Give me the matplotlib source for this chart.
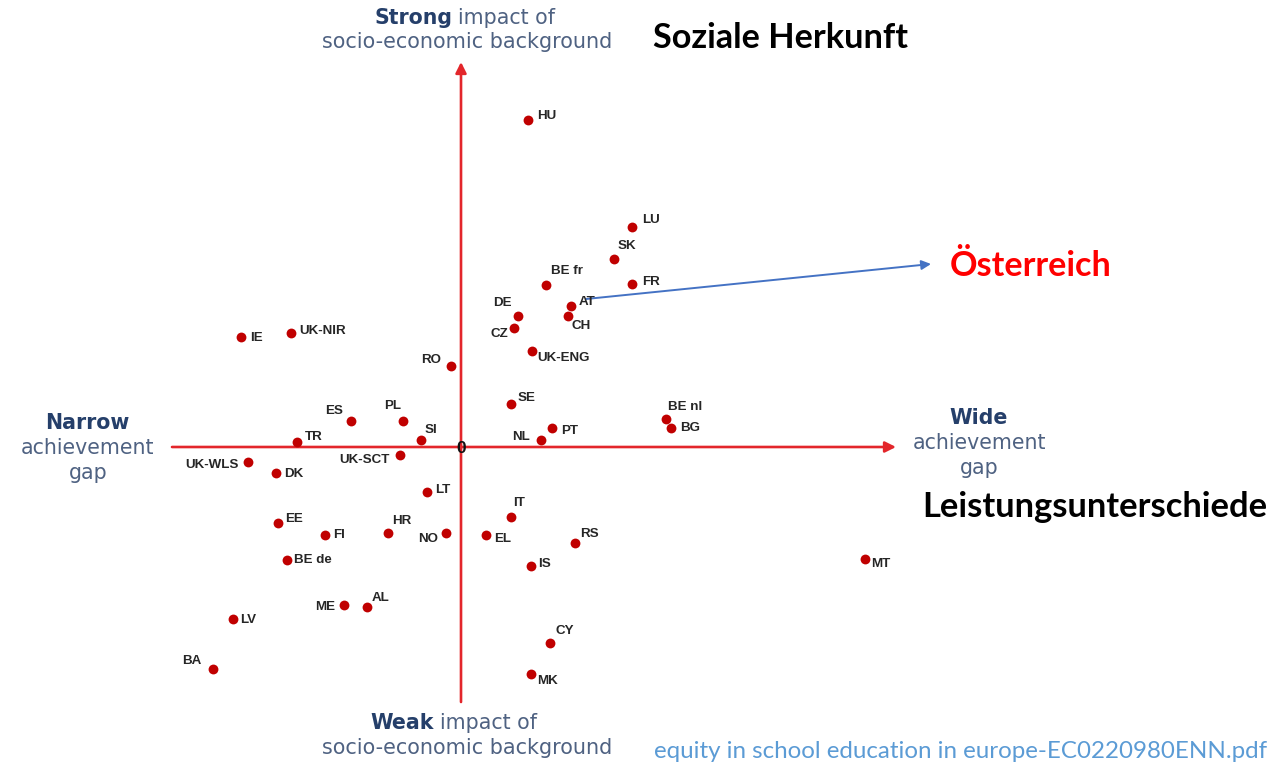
import matplotlib
matplotlib.use("Agg")
import matplotlib.pyplot as plt

# ---------------- data ----------------
countries = ["HU", "LU", "SK", "BE fr", "FR", "AT", "CH", "DE", "CZ", "UK-ENG",
             "IE", "UK-NIR", "RO", "ES", "PL", "SI", "TR", "UK-SCT", "UK-WLS", "DK",
             "LT", "EE", "FI", "HR", "NO", "BE de", "ME", "AL", "LV", "BA",
             "SE", "PT", "NL", "BE nl", "BG", "IT", "EL", "RS", "IS", "CY", "MK", "MT"]
# achievement gap (x) and impact of socio-economic background (y)
gap = [6.7, 17.1, 15.3, 8.5, 17.1, 11.0, 10.7, 5.7, 5.3, 7.1,
       -22.0, -17.0, -1.0, -11.0, -5.8, -4.0, -16.4, -6.1, -21.3, -18.5,
       -3.4, -18.3, -13.6, -7.3, -1.5, -17.4, -11.7, -9.4, -22.8, -24.8,
       5.0, 9.1, 8.0, 20.5, 21.0, 5.0, 2.5, 11.4, 7.0, 8.9, 7.0, 40.4]
impact = [32.7, 22.0, 18.8, 16.2, 16.3, 14.1, 13.1, 13.1, 11.9, 9.6,
          11.0, 11.4, 8.1, 2.6, 2.6, 0.7, 0.5, -0.8, -1.5, -2.6,
          -4.5, -7.6, -8.8, -8.6, -8.6, -11.3, -15.8, -16.0, -17.2, -22.2,
          4.3, 1.9, 0.7, 2.8, 1.9, -7.0, -8.8, -9.6, -11.9, -19.6, -22.7, -11.2]

# label placement (pixel offsets, alignment) -- styling only
label_pos = {
    "HU": (9, 4, "left"), "LU": (10, 7, "left"), "SK": (4, 13, "left"),
    "BE fr": (5, 14, "left"), "FR": (10, 2, "left"), "AT": (8, 4, "left"),
    "CH": (4, -10, "left"), "DE": (-6, 13, "right"), "CZ": (-6, -6, "right"),
    "UK-ENG": (5, -7, "left"), "IE": (9, -1, "left"), "UK-NIR": (8, 2, "left"),
    "RO": (-10, 6, "right"), "ES": (-8, 10, "right"), "PL": (-2, 15, "right"),
    "SI": (4, 10, "left"), "TR": (8, 5, "left"), "UK-SCT": (-10, -5, "right"),
    "UK-WLS": (-9, -3, "right"), "DK": (8, -1, "left"), "LT": (8, 2, "left"),
    "EE": (7, 4, "left"), "FI": (8, 0, "left"), "HR": (4, 12, "left"),
    "NO": (-8, -6, "right"), "BE de": (7, 0, "left"), "ME": (-9, -2, "right"),
    "AL": (5, 9, "left"), "LV": (7, -1, "left"), "BA": (-12, 8, "right"),
    "SE": (7, 6, "left"), "PT": (9, -3, "left"), "NL": (-11, 3, "right"),
    "BE nl": (2, 12, "left"), "BG": (9, 0, "left"), "IT": (2, 14, "left"),
    "EL": (8, -4, "left"), "RS": (5, 9, "left"), "IS": (7, 2, "left"),
    "CY": (6, 12, "left"), "MK": (6, -7, "left"), "MT": (6, -5, "left"),
}

W, H = 1281, 764
fig = plt.figure(figsize=(W / 100, H / 100), dpi=100)
ax = fig.add_axes([0, 0, 1, 1])
X0, Y0 = 461, 447  # pixel position of origin
ax.set_xlim((0 - X0) / 10, (W - X0) / 10)
ax.set_ylim((Y0 - H) / 10, (Y0 - 0) / 10)
ax.axis("off")


def P(px, py):
    return ((px - X0) / 10, (Y0 - py) / 10)


AXC = "#e3262b"
# axes arrows
ax.annotate("", xy=P(896, Y0), xytext=P(172, Y0),
            arrowprops=dict(arrowstyle="-|>", color=AXC, lw=1.9,
                            mutation_scale=16, shrinkA=0, shrinkB=0), zorder=1)
ax.annotate("", xy=P(X0, 62), xytext=P(X0, 702),
            arrowprops=dict(arrowstyle="-|>", color=AXC, lw=1.9,
                            mutation_scale=16, shrinkA=0, shrinkB=0), zorder=1)
ax.text(*P(X0, 448), "0", ha="center", va="center", fontsize=12.5,
        fontweight="bold", color="#111111", family="Liberation Sans", zorder=5)

# points
ax.scatter(gap, impact, s=50, color="#c00000", zorder=3, linewidths=0)
for c, x, y in zip(countries, gap, impact):
    dx, dy, ha = label_pos[c]
    ax.annotate(c, (x, y), xytext=(dx, dy), textcoords="offset pixels",
                ha=ha, va="center", fontsize=9.6, fontweight="bold",
                color="#262626", family="Liberation Sans", zorder=4)

renderer = fig.canvas.get_renderer()


def fit(t, width_px):
    w = t.get_window_extent(renderer).width
    t.set_fontsize(t.get_fontsize() * width_px / w)


NAVY = "#253f6a"
GREY = "#4f6282"
FS = 14.8
# top label
ax.text(*P(452, 18), "Strong", ha="right", va="center", fontsize=FS,
        fontweight="bold", color=NAVY, family="DejaVu Sans")
ax.text(*P(458, 18), "impact of", ha="left", va="center", fontsize=FS,
        color=GREY, family="DejaVu Sans")
t = ax.text(*P(467, 42), "socio-economic background", ha="center", va="center",
            fontsize=FS, color=GREY, family="DejaVu Sans")
fit(t, 290)
# bottom label
ax.text(*P(434, 723), "Weak", ha="right", va="center", fontsize=FS,
        fontweight="bold", color=NAVY, family="DejaVu Sans")
ax.text(*P(440, 723), "impact of", ha="left", va="center", fontsize=FS,
        color=GREY, family="DejaVu Sans")
t = ax.text(*P(467, 748), "socio-economic background", ha="center", va="center",
            fontsize=FS, color=GREY, family="DejaVu Sans")
fit(t, 290)
# left label
ax.text(*P(87, 423), "Narrow", ha="center", va="center", fontsize=FS,
        fontweight="bold", color=NAVY, family="DejaVu Sans")
ax.text(*P(88, 448), "achievement", ha="center", va="center", fontsize=FS,
        color=GREY, family="DejaVu Sans")
ax.text(*P(88, 473), "gap", ha="center", va="center", fontsize=FS,
        color=GREY, family="DejaVu Sans")
# right label
ax.text(*P(979, 418), "Wide", ha="center", va="center", fontsize=FS,
        fontweight="bold", color=NAVY, family="DejaVu Sans")
ax.text(*P(979, 443), "achievement", ha="center", va="center", fontsize=FS,
        color=GREY, family="DejaVu Sans")
ax.text(*P(979, 468), "gap", ha="center", va="center", fontsize=FS,
        color=GREY, family="DejaVu Sans")

# German annotations
t = ax.text(*P(653, 38), "Soziale Herkunft", ha="left", va="center",
            fontsize=22, fontweight="bold", color="black", family="Lato")
fit(t, 254)
t = ax.text(*P(922, 507), "Leistungsunterschiede", ha="left", va="center",
            fontsize=22, fontweight="bold", color="black", family="Lato")
fit(t, 346)
t = ax.text(*P(950, 266), "Österreich", ha="left", va="center",
            fontsize=22, fontweight="bold", color="#ff0000", family="Lato")
fit(t, 162)
ax.annotate("", xy=P(931, 264), xytext=P(586, 299),
            arrowprops=dict(arrowstyle="-|>", color="#4472c4", lw=1.4,
                            mutation_scale=14, shrinkA=0, shrinkB=0))
t = ax.text(*P(654, 751), "equity in school education in europe-EC0220980ENN.pdf",
            ha="left", va="center", fontsize=14, color="#5b9bd5", family="Lato")
fit(t, 614)

fig.savefig("out.png", dpi=100)
